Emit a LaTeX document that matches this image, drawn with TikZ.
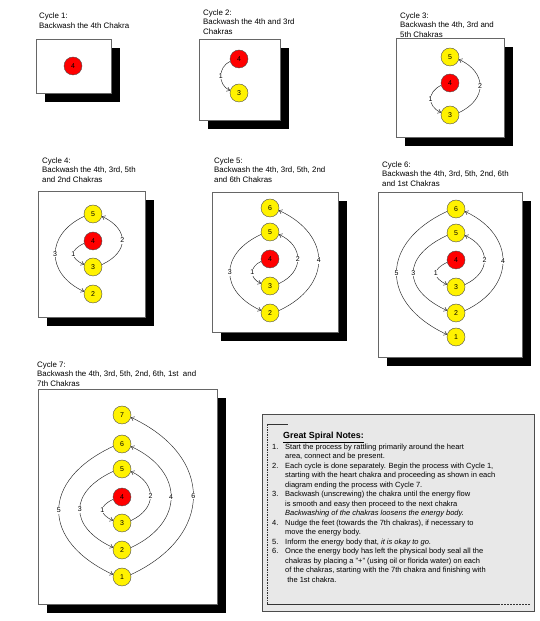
\documentclass[tikz,border=0pt]{standalone}
\usepackage{fontspec}
\setmainfont{Liberation Sans}
\usetikzlibrary{arrows.meta}
\newcommand{\nnum}[1]{\makebox[13pt][l]{#1}}
\newcommand{\nind}{\hspace*{13pt}}

\begin{document}
\begin{tikzpicture}[x=1pt, y=1pt,
  title/.style={anchor=base west, align=left, inner sep=0pt, font=\fontsize{7.9}{9.5}\selectfont},
  frame/.style={draw=black!60, fill=white, line width=0.5pt, preaction={fill=black, transform canvas={shift={(9pt,-9pt)}}}},
  chakra/.style={circle, draw=black!70, fill=yellow, minimum size=18pt, inner sep=0pt, font=\fontsize{7}{8}\selectfont},
  heart/.style={chakra, fill=red},
  arr/.style={-{Straight Barb[length=3pt,width=4.5pt]}, line width=0.45pt, draw=black!85, looseness=1.5},
  spl/.style={arr, out=205, in=155},
  spr/.style={arr, out=25, in=-25},
  lbl/.style={midway, fill=white, inner sep=0.6pt, font=\fontsize{7}{8}\selectfont},
  notebody/.style={anchor=base west, align=left, inner sep=0pt, font=\fontsize{7.5}{9.5}\selectfont}]
\useasboundingbox (0,0) rectangle (540,621);

% cycle 1
\draw[frame] (36,582) rectangle (111,528);
\node[title] (t1) at (39,592.7) {Cycle 1:\\Backwash the 4th Chakra};
\node[heart] (c1n4) at (73,555) {4};

% cycle 2
\draw[frame] (199,582) rectangle (280,501);
\node[title] (t2) at (203,586.7) {Cycle 2:\\Backwash the 4th and 3rd\\Chakras};
\node[heart] (c2n4) at (239,562) {4};
\node[chakra] (c2n3) at (239,528) {3};
\draw[spl, looseness=1.2] (c2n4.195) to node[lbl]{1} (c2n3.165);

% cycle 3
\draw[frame] (396,583) rectangle (504,484);
\node[title] (t3) at (400,583.7) {Cycle 3:\\Backwash the 4th, 3rd and\\5th Chakras};
\node[heart] (c3n4) at (450,538) {4};
\foreach \n/\y in {5/564,3/506} \node[chakra] (c3n\n) at (450,\y) {\n};
\draw[spl, looseness=1.45] (c3n4.195) to node[lbl]{1} (c3n3.165);
\draw[spr] (c3n3.15) to node[lbl]{2} (c3n5.-15);

% cycle 4
\draw[frame] (38,430) rectangle (145,304);
\node[title] (t4) at (42,438.7) {Cycle 4:\\Backwash the 4th, 3rd, 5th\\and 2nd Chakras};
\node[heart] (c4n4) at (93,380) {4};
\foreach \n/\y in {5/407,3/354,2/327} \node[chakra] (c4n\n) at (93,\y) {\n};
\draw[spl, looseness=1.9] (c4n4.195) to node[lbl]{1} (c4n3.165);
\draw[spr, looseness=1.6] (c4n3.15) to node[lbl]{2} (c4n5.-15);
\draw[spl, looseness=1.45] (c4n5.195) to node[lbl]{3} (c4n2.165);

% cycle 5
\draw[frame] (212,429) rectangle (338,289);
\node[title] (t5) at (214,438.7) {Cycle 5:\\Backwash the 4th, 3rd, 5th, 2nd\\and 6th Chakras};
\node[heart] (c5n4) at (270,362) {4};
\foreach \n/\y in {6/413,5/389,3/335,2/308} \node[chakra] (c5n\n) at (270,\y) {\n};
\draw[spl] (c5n4.195) to node[lbl]{1} (c5n3.165);
\draw[spr, looseness=1.45] (c5n3.15) to node[lbl]{2} (c5n5.-15);
\draw[spl, looseness=1.55] (c5n5.195) to node[lbl]{3} (c5n2.165);
\draw[spr] (c5n2.15) to node[lbl]{4} (c5n6.-15);

% cycle 6
\draw[frame] (378,429) rectangle (522,264);
\node[title] (t6) at (382,434.7) {Cycle 6:\\Backwash the 4th, 3rd, 5th, 2nd, 6th\\and 1st Chakras};
\node[heart] (c6n4) at (456,361) {4};
\foreach \n/\y in {6/412,5/388,3/334,2/308,1/284} \node[chakra] (c6n\n) at (456,\y) {\n};
\draw[spl, looseness=1.9] (c6n4.195) to node[lbl]{1} (c6n3.165);
\draw[spr] (c6n3.15) to node[lbl]{2} (c6n5.-15);
\draw[spl, looseness=1.7] (c6n5.195) to node[lbl]{3} (c6n2.165);
\draw[spr, looseness=1.45] (c6n2.15) to node[lbl]{4} (c6n6.-15);
\draw[spl, looseness=1.55] (c6n6.195) to node[lbl]{5} (c6n1.165);

% cycle 7
\draw[frame] (38,232) rectangle (217,17);
\node[title] (t7) at (37,234.7) {Cycle 7:\\Backwash the 4th, 3rd, 5th, 2nd, 6th, 1st\ \ and\\7th Chakras};
\node[heart] (c7n4) at (122,124) {4};
\foreach \n/\y in {7/206,6/177,5/152,3/98,2/71,1/44} \node[chakra] (c7n\n) at (122,\y) {\n};
\draw[spl, looseness=1.9] (c7n4.195) to node[lbl]{1} (c7n3.165);
\draw[spr] (c7n3.15) to node[lbl]{2} (c7n5.-15);
\draw[spl, looseness=1.65] (c7n5.195) to node[lbl]{3} (c7n2.165);
\draw[spr] (c7n2.15) to node[lbl]{4} (c7n6.-15);
\draw[spl, looseness=1.6] (c7n6.195) to node[lbl]{5} (c7n1.165);
\draw[spr] (c7n1.15) to node[lbl]{6} (c7n7.-15);

% notes
\draw[draw=black!70, fill=black!9, line width=0.5pt] (262,207) rectangle (534,10);
\draw[black!80] (267,196.5) -- (288,196.5);
\draw[black!80, dash pattern=on 1.5pt off 1pt] (267,196.5) -- (267,16.7);
\draw[black!80] (267,16.7) -- (498,16.7);
\draw[black!80, dash pattern=on 2pt off 1pt] (498,16.7) -- (530,16.7);
\node[anchor=base west, inner sep=0pt, font=\fontsize{8.9}{10}\selectfont\bfseries] (nhead) at (283,182) {\underline{Great Spiral Notes:}};
\node[notebody] (nbody) at (272,38.5) {%
\nnum{1.}Start the process by rattling primarily around the heart\\
\nind area, connect and be present.\\
\nnum{2.}Each cycle is done separately. Begin the process with Cycle 1,\\
\nind starting with the heart chakra and proceeding as shown in each\\
\nind diagram ending the process with Cycle 7.\\
\nnum{3.}Backwash (unscrewing) the chakra until the energy flow\\
\nind is smooth and easy then proceed to the next chakra\\
\nind\textit{Backwashing of the chakras loosens the energy body.}\\
\nnum{4.}Nudge the feet (towards the 7th chakras), if necessary to\\
\nind move the energy body.\\
\nnum{5.}Inform the energy body that, \textit{it is okay to go.}\\
\nnum{6.}Once the energy body has left the physical body seal all the\\
\nind chakras by placing a "+" (using oil or florida water) on each\\
\nind of the chakras, starting with the 7th chakra and finishing with\\
\nind\ the 1st chakra.};
\end{tikzpicture}
\end{document}
